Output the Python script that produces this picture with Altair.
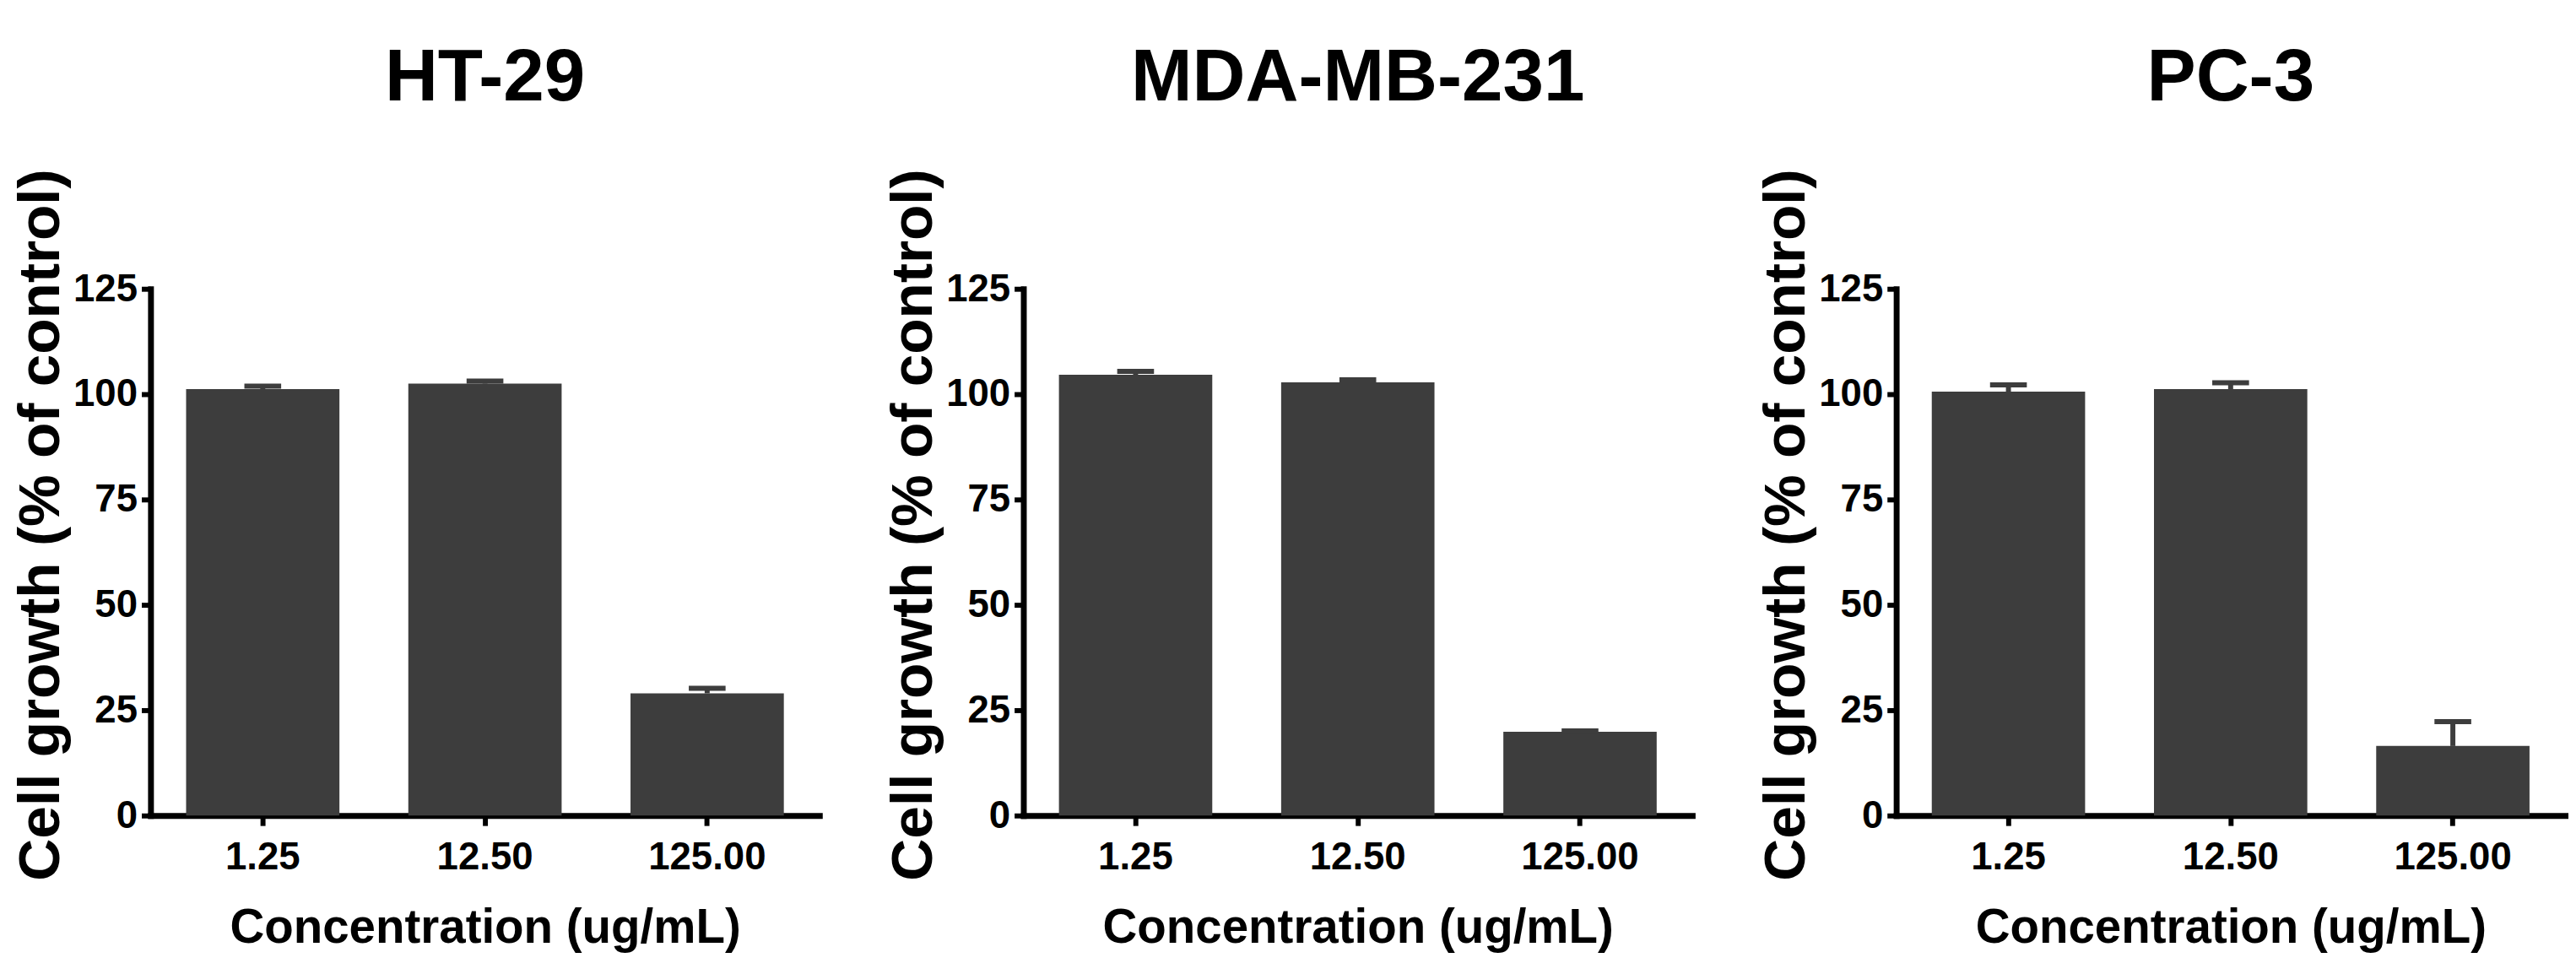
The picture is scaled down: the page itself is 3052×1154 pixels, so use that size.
import altair as alt
import pandas as pd

# ---- data ----
cell_lines = ["HT-29", "MDA-MB-231", "PC-3"]
concentrations = ["1.25", "12.50", "125.00"]
ht29_mean = [101.2, 102.5, 29.0]
ht29_err = [0.7, 0.6, 1.2]
mda_mean = [104.6, 102.8, 19.9]
mda_err = [0.8, 0.6, 0.2]
pc3_mean = [100.6, 101.2, 16.5]
pc3_err = [1.6, 1.5, 5.8]
y_ticks = [0, 25, 50, 75, 100, 125]

FONT = "Liberation Sans"
BAR = "#3d3d3d"


def panel(title, means, errs, width):
    df = pd.DataFrame({
        "conc": concentrations,
        "mean": means,
        "upper": [m + e for m, e in zip(means, errs)],
    })
    x_axis = alt.Axis(title="Concentration (ug/mL)", labelAngle=0)
    y_axis = alt.Axis(title="Cell growth (% of control)", values=y_ticks, titleY=282)
    xs = alt.Scale(paddingInner=0.31, paddingOuter=0.16)
    ys = alt.Scale(domain=[0, 125], nice=False)

    def X():
        return alt.X("conc:N", sort=concentrations, scale=xs, axis=x_axis)

    def Y(field):
        return alt.Y(field, type="quantitative", scale=ys, axis=y_axis)

    base = alt.Chart(df)
    bars = base.mark_bar(color=BAR).encode(x=X(), y=Y("mean"))
    stem = base.mark_rule(color=BAR, strokeWidth=6).encode(x=X(), y=Y("mean"), y2="upper:Q")
    cap = base.mark_tick(color=BAR, thickness=6, size=44, opacity=1).encode(x=X(), y=Y("upper"))
    return alt.layer(bars, stem, cap).properties(
        width=width, height=630, title=alt.TitleParams(title)
    )


chart = alt.hconcat(
    panel(cell_lines[0], ht29_mean, ht29_err, 800),
    panel(cell_lines[1], mda_mean, mda_err, 800),
    panel(cell_lines[2], pc3_mean, pc3_err, 800),
    spacing=78,
).properties(
    padding={"left": 6, "top": 36, "right": 5, "bottom": 5},
    background="white",
).configure_view(stroke=None).configure_axis(
    domainColor="black", tickColor="black", labelColor="black", titleColor="black",
    labelFont=FONT, titleFont=FONT, labelFontWeight="bold", titleFontWeight="bold",
    grid=False, domainCap="square",
).configure_axisX(
    domainWidth=7, tickWidth=6, tickSize=12, labelFontSize=46, labelPadding=16,
    titleFontSize=57, titlePadding=34,
).configure_axisY(
    domainWidth=7, tickWidth=6, tickSize=11, labelFontSize=46, labelPadding=5,
    titleFontSize=70, titlePadding=2,
).configure_title(
    font=FONT, fontSize=88, fontWeight="bold", color="black", anchor="middle",
    frame="group", baseline="alphabetic", offset=64,
)

chart.save("out.html", embed_options={"renderer": "svg", "actions": False})
